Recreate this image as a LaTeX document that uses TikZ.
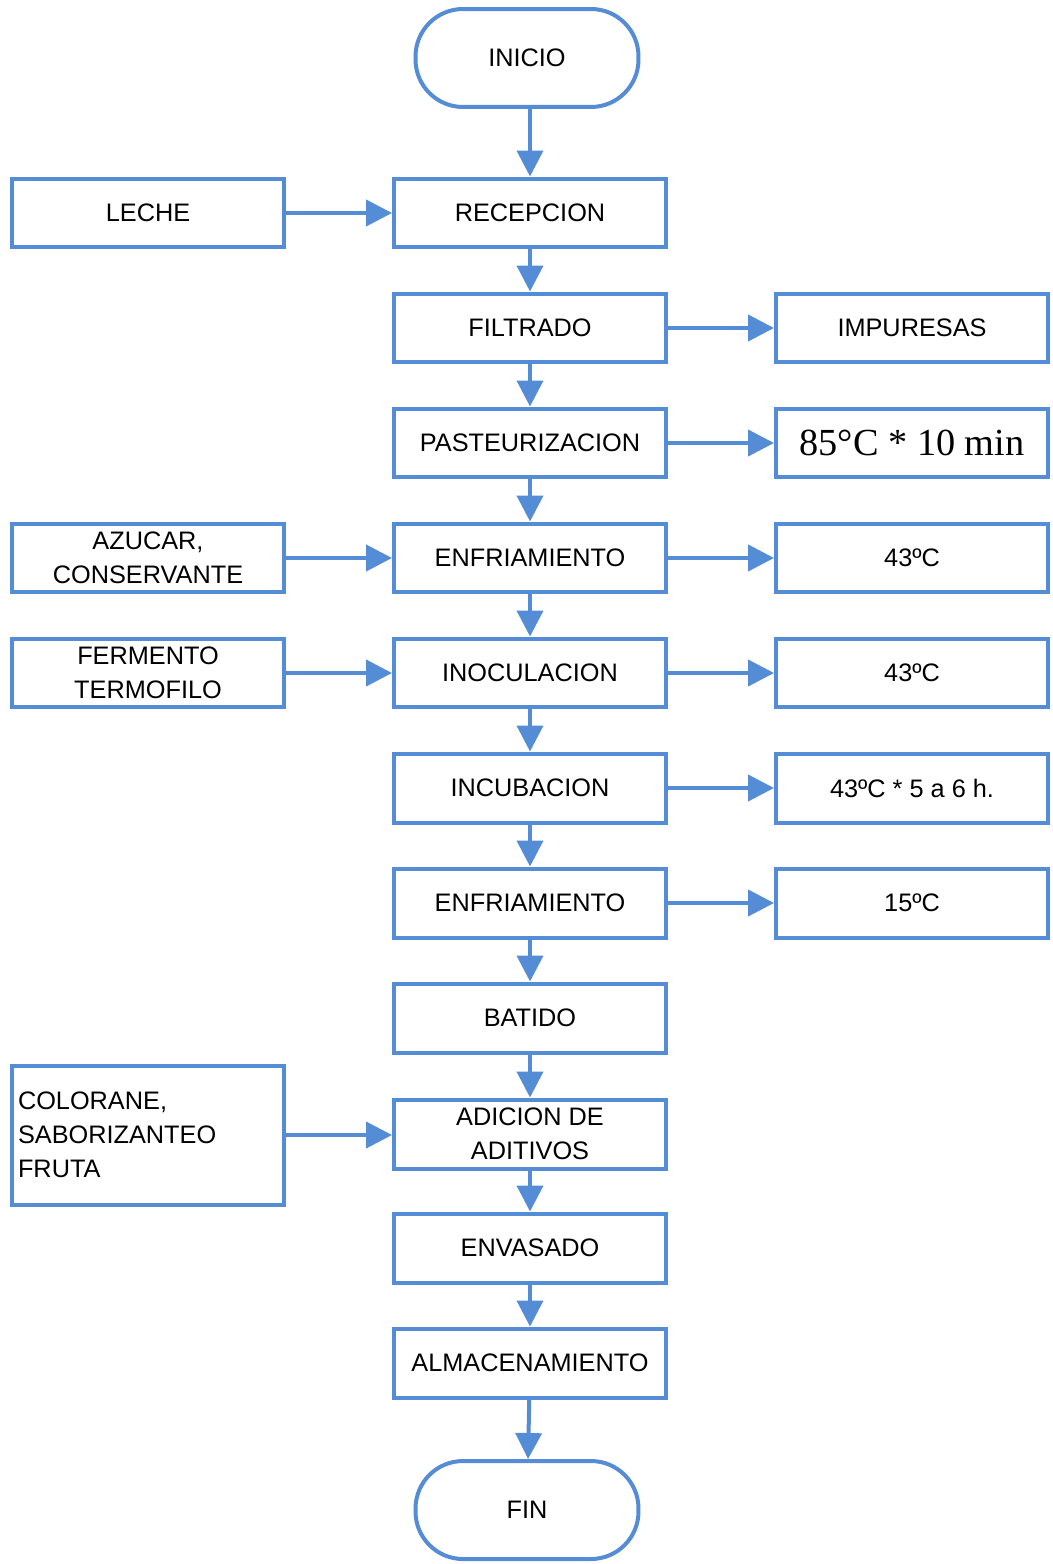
\documentclass[tikz,border=0pt]{standalone}
\usepackage{fontspec}
\setmainfont{Liberation Sans}
\newfontfamily\serifnum{Liberation Serif}
\usetikzlibrary{arrows.meta,positioning}
\definecolor{flowblue}{RGB}{85,140,214}

\begin{document}
\begin{tikzpicture}[x=0.02cm, y=-0.02cm,
  font=\fontsize{14.4}{19.4}\selectfont,
  stage/.style={draw=flowblue, line width=0.08cm, minimum width=5.44cm, minimum height=1.38cm, align=center, inner sep=0pt},
  term/.style={draw=flowblue, line width=0.08cm, rounded corners=0.95cm, minimum width=4.46cm, minimum height=1.96cm},
  arr/.style={-{Triangle[length=0.52cm, width=0.52cm]}, draw=flowblue, line width=0.08cm}
]
\useasboundingbox (0,0) rectangle (1052,1564);
% main column
\node[term] (ini) at (527,58) {INICIO};
\node[stage] (rec) at (530,213) {RECEPCION};
\node[stage] (fil) at (530,328) {FILTRADO};
\node[stage] (pas) at (530,443) {PASTEURIZACION};
\node[stage] (enf) at (530,558) {ENFRIAMIENTO};
\node[stage] (ino) at (530,673) {INOCULACION};
\node[stage] (inc) at (530,788) {INCUBACION};
\node[stage] (enf2) at (530,903) {ENFRIAMIENTO};
\node[stage] (bat) at (530,1018) {BATIDO};
\node[stage] (adi) at (530,1134) {ADICION DE\\ADITIVOS};
\node[stage] (env) at (530,1248) {ENVASADO};
\node[stage] (alm) at (530,1363) {ALMACENAMIENTO};
\node[term] (fin) at (527,1510) {FIN};
% inputs
\node[stage] (lec) at (148,213) {LECHE};
\node[stage] (azu) at (148,558) {AZUCAR,\\CONSERVANTE};
\node[stage] (fer) at (148,673) {FERMENTO\\TERMOFILO};
\node[stage, minimum height=2.78cm, text width=5.2cm, align=left] (col) at (148,1135) {COLORANE,\\SABORIZANTEO\\FRUTA};
% outputs / conditions
\node[stage] (imp) at (912,328) {IMPURESAS};
\node[stage, font=\serifnum\fontsize{21.8}{24}\selectfont] (c85) at (912,443) {85°C * 10 min};
\node[stage] (c43a) at (912,558) {43ºC};
\node[stage] (c43b) at (912,673) {43ºC};
\node[stage] (c43c) at (912,788) {43ºC * 5 a 6 h.};
\node[stage] (c15) at (912,903) {15ºC};
% connectors
\draw[arr] (ini.south -| rec.north) -- (rec.north);
\draw[arr] (rec) -- (fil);
\draw[arr] (fil) -- (pas);
\draw[arr] (pas) -- (enf);
\draw[arr] (enf) -- (ino);
\draw[arr] (ino) -- (inc);
\draw[arr] (inc) -- (enf2);
\draw[arr] (enf2) -- (bat);
\draw[arr] (bat) -- (adi);
\draw[arr] (adi) -- (env);
\draw[arr] (env) -- (alm);
\draw[arr] (alm) -- (fin);
\draw[arr] (lec) -- (rec);
\draw[arr] (azu) -- (enf);
\draw[arr] (fer) -- (ino);
\draw[arr] (col.east) -- (col.east -| adi.west);
\draw[arr] (fil) -- (imp);
\draw[arr] (pas) -- (c85);
\draw[arr] (enf) -- (c43a);
\draw[arr] (ino) -- (c43b);
\draw[arr] (inc) -- (c43c);
\draw[arr] (enf2) -- (c15);
\end{tikzpicture}
\end{document}
